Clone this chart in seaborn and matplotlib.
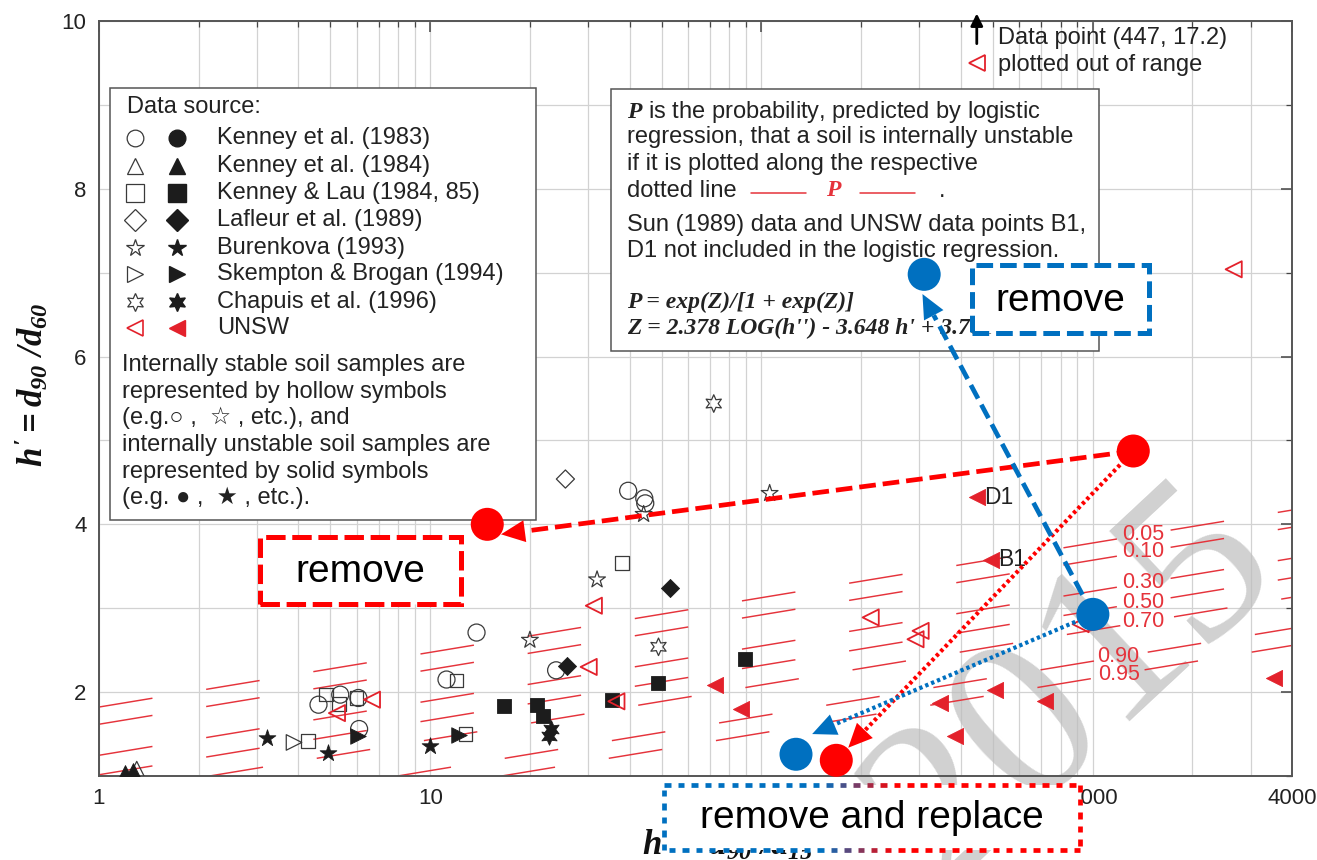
import numpy as np
import pandas as pd
import matplotlib
matplotlib.use("Agg")
import matplotlib.pyplot as plt
import matplotlib.ticker as mticker
import matplotlib.colors as mcolors
from matplotlib.patches import Rectangle, Polygon
from matplotlib.lines import Line2D
from matplotlib.collections import LineCollection
import seaborn as sns

# ------------------------------------------------------------------ data
SOURCES = ["Kenney et al. (1983)", "Kenney et al. (1984)", "Kenney & Lau (1984, 85)",
           "Lafleur et al. (1989)", "Burenkova (1993)", "Skempton & Brogan (1994)",
           "Chapuis et al. (1996)", "UNSW"]

k83_stable_h2 = [4.60, 5.35, 6.07, 6.10, 11.2, 13.8, 24.0, 39.6, 44.3, 44.6]
k83_stable_h1 = [1.85, 1.97, 1.93, 1.56, 2.15, 2.71, 2.26, 4.40, 4.31, 4.25]
k84_stable_h2 = [1.30]
k84_stable_h1 = [1.08]
k84_unstable_h2 = [1.20, 1.27]
k84_unstable_h1 = [1.04, 1.06]
kl_stable_h2 = [4.27, 4.85, 5.30, 6.00, 12.0, 12.8, 37.9]
kl_stable_h1 = [1.42, 1.97, 1.86, 1.93, 2.14, 1.50, 3.54]
kl_unstable_h2 = [16.7, 21.0, 21.9, 35.5, 48.9, 89.5]
kl_unstable_h1 = [1.83, 1.85, 1.72, 1.91, 2.11, 2.40]
laf_stable_h2 = [25.6]
laf_stable_h1 = [4.54]
laf_unstable_h2 = [25.8, 53.1]
laf_unstable_h1 = [2.31, 3.24]
bur_stable_h2 = [20.0, 31.9, 44.1, 105.9]
bur_stable_h1 = [2.62, 3.34, 4.12, 4.37]
bur_unstable_h2 = [3.21, 4.91, 10.0]
bur_unstable_h1 = [1.45, 1.27, 1.36]
skb_stable_h2 = [3.88]
skb_stable_h1 = [1.40]
skb_unstable_h2 = [6.07, 12.2]
skb_unstable_h1 = [1.48, 1.49]
cha_stable_h2 = [48.9, 71.8]
cha_stable_h1 = [2.54, 5.44]
cha_unstable_h2 = [22.8, 23.2]
cha_unstable_h1 = [1.48, 1.56]
unsw_stable_h2 = [5.23, 6.67, 30.1, 31.2, 36.5, 213.8, 292.0, 302.5, 920.0, 2667.0]
unsw_stable_h1 = [1.75, 1.91, 2.30, 3.03, 1.89, 2.89, 2.63, 2.73, 2.81, 7.04]
unsw_unstable_h2 = [72.6, 86.5, 345.0, 384.6, 449.0, 494.0, 506.0, 716.0, 3523.0]
unsw_unstable_h1 = [2.09, 1.80, 1.87, 1.48, 4.32, 3.58, 2.03, 1.89, 2.17]

POINT_LABELS = ["D1", "B1"]
POINT_LABEL_H2 = [449.0, 494.0]
POINT_LABEL_H1 = [4.32, 3.58]

# probability lines (endpoints)
P_LABELS = ["0.05", "0.10", "0.30", "0.50", "0.70", "0.90", "0.95"]
P_START_H2 = [1.0, 1.0, 1.0, 1.0, 2.157, 7.97, 16.43]
P_START_H1 = [1.822, 1.617, 1.247, 1.015, 1.0, 1.0, 1.0]
P_END_H2 = [4000.0] * 7
P_END_H1 = [4.170, 3.965, 3.595, 3.363, 3.130, 2.760, 2.556]
P_LABEL_H2 = [1426, 1426, 1426, 1426, 1426, 1198, 1198]
P_LABEL_H1 = [3.877, 3.673, 3.303, 3.070, 2.838, 2.419, 2.214]

X_TICKS = [1, 10, 100, 1000, 4000]
X_TICK_LABELS = ["1", "10", "100", "1000", "4000"]
Y_TICKS = [2, 4, 6, 8, 10]

OUT_OF_RANGE_H2 = 447
OUT_OF_RANGE_H1 = 17.2

# overlay annotation anchors (data units)
RED_SRC = (1327, 4.874)
RED_T1 = (14.87, 4.00)
RED_T1_TIP = (16.36, 3.881)
RED_T2 = (168.3, 1.187)
RED_T2_TIP = (182.9, 1.337)
BLUE_SRC = (1002, 2.927)
BLUE_T1 = (310.1, 6.98)
BLUE_T1_TIP = (306.4, 6.745)
BLUE_T2 = (127.2, 1.259)
BLUE_T2_TIP = (142.3, 1.50)

# ------------------------------------------------------------------ style
sns.set_theme(style="white")
plt.rcParams["font.family"] = ["Liberation Sans", "DejaVu Sans"]
plt.rcParams["lines.scale_dashes"] = False
plt.rcParams["mathtext.fontset"] = "custom"
plt.rcParams["mathtext.it"] = "Liberation Serif:italic:bold"
plt.rcParams["mathtext.rm"] = "Liberation Serif:italic:bold"
plt.rcParams["mathtext.bf"] = "Liberation Serif:italic:bold"

W, H = 1317, 860


def fx(px):
    return px / W


def fy(py):
    return 1 - py / H


RED = "#FF0000"
BLUE = "#0070C0"
PRED = "#E5333B"
UNSW_RED = "#E3212B"
DARK = "#1c1c1c"
HOLLOW_EC = "#3a3a3a"

fig = plt.figure(figsize=(W / 100, H / 100), dpi=100)
fig.patch.set_facecolor("white")
ax = fig.add_axes([fx(99), fy(776), fx(1292) - fx(99), fy(21) - fy(776)])
ax.set_xscale("log")

# ------------------------------------------------------------------ dataframe
rows = []


def add(src, state, xs, ys):
    for a, b in zip(xs, ys):
        rows.append({"h2": a, "h1": b, "source": src, "state": state})


add(SOURCES[0], "stable", k83_stable_h2, k83_stable_h1)
add(SOURCES[1], "stable", k84_stable_h2, k84_stable_h1)
add(SOURCES[1], "unstable", k84_unstable_h2, k84_unstable_h1)
add(SOURCES[2], "stable", kl_stable_h2, kl_stable_h1)
add(SOURCES[2], "unstable", kl_unstable_h2, kl_unstable_h1)
add(SOURCES[3], "stable", laf_stable_h2, laf_stable_h1)
add(SOURCES[3], "unstable", laf_unstable_h2, laf_unstable_h1)
add(SOURCES[4], "stable", bur_stable_h2, bur_stable_h1)
add(SOURCES[4], "unstable", bur_unstable_h2, bur_unstable_h1)
add(SOURCES[5], "stable", skb_stable_h2, skb_stable_h1)
add(SOURCES[5], "unstable", skb_unstable_h2, skb_unstable_h1)
add(SOURCES[6], "stable", cha_stable_h2, cha_stable_h1)
add(SOURCES[6], "unstable", cha_unstable_h2, cha_unstable_h1)
add(SOURCES[7], "stable", unsw_stable_h2, unsw_stable_h1)
add(SOURCES[7], "unstable", unsw_unstable_h2, unsw_unstable_h1)
df = pd.DataFrame(rows)

HEX = (6, 1, 0)
MARKERS = dict(zip(SOURCES, ["o", "^", "s", "D", "*", ">", HEX, "<"]))
SIZES = dict(zip(SOURCES, [150, 130, 95, 85, 160, 125, 160, 135]))
LEG_MS = dict(zip(SOURCES, [12, 12, 13, 11, 13, 12, 13, 12]))

# ------------------------------------------------------------------ P lines
for i, lab in enumerate(P_LABELS):
    ax.plot([P_START_H2[i], P_END_H2[i]], [P_START_H1[i], P_END_H1[i]],
            color=PRED, lw=1.05, linestyle=(0, (39.0, 39.2)),
            dash_capstyle="butt", zorder=2)
    ax.text(P_LABEL_H2[i], P_LABEL_H1[i], lab, color=PRED, fontsize=15.5,
            ha="center", va="center", zorder=2.5)

# ------------------------------------------------------------------ points
for src in SOURCES:
    for state in ["stable", "unstable"]:
        sub = df[(df.source == src) & (df.state == state)]
        if sub.empty:
            continue
        col = UNSW_RED if src == "UNSW" else DARK
        if state == "stable":
            ec = UNSW_RED if src == "UNSW" else HOLLOW_EC
            lw = 1.3 if src == "UNSW" else 0.9
            sns.scatterplot(data=sub, x="h2", y="h1", ax=ax, marker=MARKERS[src],
                            s=SIZES[src], color="none", edgecolor=ec,
                            linewidth=lw, zorder=6, legend=False)
        else:
            sns.scatterplot(data=sub, x="h2", y="h1", ax=ax, marker=MARKERS[src],
                            s=SIZES[src], color=col, edgecolor=col,
                            linewidth=0.6, zorder=6, legend=False)

for lab, a, b in zip(POINT_LABELS, POINT_LABEL_H2, POINT_LABEL_H1):
    ax.annotate(lab, (a, b), xytext=(5, 0), textcoords="offset points",
                va="center", ha="left", fontsize=16.5, color="#222222", zorder=7)

# ------------------------------------------------------------------ axes
ax.set_xlim(1, 4000)
ax.set_ylim(1, 10)
ax.set_xlabel("")
ax.set_ylabel("")
ax.xaxis.set_major_locator(mticker.FixedLocator(X_TICKS))
ax.xaxis.set_major_formatter(mticker.FixedFormatter(X_TICK_LABELS))
minor_x = [m * 10 ** e for e in range(0, 4) for m in range(2, 10) if m * 10 ** e < 4000]
ax.xaxis.set_minor_locator(mticker.FixedLocator(minor_x))
ax.xaxis.set_minor_formatter(mticker.NullFormatter())
ax.yaxis.set_major_locator(mticker.FixedLocator(Y_TICKS))
ax.yaxis.set_minor_locator(mticker.FixedLocator([1, 3, 5, 7, 9]))
ax.grid(True, which="both", color="#d2d2d2", lw=0.9, zorder=0)
ax.set_axisbelow(True)
ax.tick_params(which="both", direction="in", top=True, right=True,
               colors="#444444", labelcolor="#222222", labelsize=16)
ax.tick_params(which="major", length=8, width=1.1, pad=9)
ax.tick_params(which="minor", length=4.5, width=0.9)
for sp in ax.spines.values():
    sp.set_color("#555555")
    sp.set_linewidth(1.4)

# axis labels
fig.text(fx(31), fy(385), r"$h' = d_{90}\ /d_{60}$", rotation=90, fontsize=25,
         ha="center", va="center", color="#111111")
fig.text(fx(728), fy(843), r"$h'' = d_{90}\ /d_{15}$", fontsize=25,
         ha="center", va="center", color="#111111")

# watermark
ax.text(fx(1058), fy(668), "2015", transform=fig.transFigure, fontsize=168,
        family="Liberation Serif", color="#bdbdbd", alpha=0.7, rotation=43,
        rotation_mode="anchor", ha="center", va="center_baseline", zorder=1.5,
        clip_on=False)

# ------------------------------------------------------------------ legend box
TF = fig.transFigure
ax.add_patch(Rectangle((fx(110), fy(520)), fx(536) - fx(110), fy(88) - fy(520),
                       transform=TF, facecolor="white", edgecolor="#555555",
                       lw=1.1, zorder=3))
ax.text(fx(127), fy(107), "Data source:", transform=TF, fontsize=17,
        va="center", ha="left", zorder=4, color="#222222")
row_y = [138, 166, 193, 220, 248, 274, 302, 328]
for src, yy in zip(SOURCES, row_y):
    col = UNSW_RED if src == "UNSW" else DARK
    ec = UNSW_RED if src == "UNSW" else HOLLOW_EC
    ax.add_artist(Line2D([fx(135)], [fy(yy)], transform=TF, marker=MARKERS[src],
                         markersize=LEG_MS[src], markerfacecolor="none",
                         markeredgecolor=ec, markeredgewidth=1.2 if src == "UNSW" else 0.9,
                         linestyle="none", zorder=4))
    ax.add_artist(Line2D([fx(177)], [fy(yy)], transform=TF, marker=MARKERS[src],
                         markersize=LEG_MS[src], markerfacecolor=col,
                         markeredgecolor=col, linestyle="none", zorder=4))
    ax.text(fx(217), fy(yy), src, transform=TF, fontsize=17, va="center",
            ha="left", zorder=4, color="#222222")
PARA = ["Internally stable soil samples are", "represented by hollow symbols",
        "(e.g.\u25CB ,  \u2606 , etc.), and", "internally unstable soil samples are",
        "represented by solid symbols", "(e.g. \u25CF ,  \u2605 , etc.)."]
for t, yy in zip(PARA, [365, 392, 418, 445, 472, 498]):
    ax.text(fx(122), fy(yy), t, transform=TF, fontsize=17, va="center",
            ha="left", zorder=4, color="#222222")

# ------------------------------------------------------------------ info box
ax.add_patch(Rectangle((fx(611), fy(351)), fx(1099) - fx(611), fy(89) - fy(351),
                       transform=TF, facecolor="white", edgecolor="#555555",
                       lw=1.1, zorder=3))
INFO = [(112, r"$P$ is the probability, predicted by logistic"),
        (137, "regression, that a soil is internally unstable"),
        (164, "if it is plotted along the respective"),
        (191, "dotted line"),
        (225, "Sun (1989) data and UNSW data points B1,"),
        (251, "D1 not included in the logistic regression.")]
for yy, t in INFO:
    ax.text(fx(627), fy(yy), t, transform=TF, fontsize=17, va="center",
            ha="left", zorder=4, color="#222222")
ax.add_artist(Line2D([fx(751), fx(806)], [fy(193), fy(193)], transform=TF,
                     color=PRED, lw=1.1, zorder=4))
ax.add_artist(Line2D([fx(860), fx(915)], [fy(193), fy(193)], transform=TF,
                     color=PRED, lw=1.1, zorder=4))
ax.text(fx(833), fy(191), "P", transform=TF, fontsize=17, family="Liberation Serif",
        weight="bold", style="italic", color=PRED, ha="center", va="center", zorder=4)
ax.text(fx(942), fy(191), ".", transform=TF, fontsize=17, color="#222222",
        ha="center", va="center", zorder=4)
ax.text(fx(627), fy(302), "P = exp(Z)/[1 + exp(Z)]", transform=TF, fontsize=17,
        family="Liberation Serif", weight="bold", style="italic", va="center",
        ha="left", zorder=4, color="#222222")
ax.text(fx(627), fy(328), "Z = 2.378 LOG(h'') - 3.648 h' + 3.701", transform=TF,
        fontsize=17, family="Liberation Serif", weight="bold", style="italic",
        va="center", ha="left", zorder=4, color="#222222")

# out of range note
ax.annotate("", xy=(OUT_OF_RANGE_H2, 10.09), xytext=(OUT_OF_RANGE_H2, 9.73),
            arrowprops=dict(arrowstyle="-|>", color="black", lw=2.0,
                            mutation_scale=18, shrinkA=0, shrinkB=0),
            annotation_clip=False, zorder=8)
ax.add_artist(Line2D([fx(977)], [fy(63)], transform=TF, marker="<", markersize=11,
                     markerfacecolor="none", markeredgecolor=UNSW_RED,
                     markeredgewidth=1.3, linestyle="none", zorder=8))
ax.text(fx(998), fy(38), f"Data point ({OUT_OF_RANGE_H2}, {OUT_OF_RANGE_H1})",
        transform=TF, fontsize=17, va="center", ha="left", zorder=8, color="#222222")
ax.text(fx(998), fy(65), "plotted out of range", transform=TF, fontsize=17,
        va="center", ha="left", zorder=8, color="#222222")

# ------------------------------------------------------------------ overlay arrows
T = ax.transData
INV = T.inverted()


def arrow(start, tip, color, ls, lw, head_len=24, head_w=11, z=9):
    s = T.transform(start)
    t = T.transform(tip)
    d = t - s
    d = d / np.hypot(*d)
    n = np.array([-d[1], d[0]])
    base = t - head_len * d
    p0, p1 = INV.transform([s, base])
    ax.plot([p0[0], p1[0]], [p0[1], p1[1]], color=color, lw=lw, linestyle=ls,
            dash_capstyle="butt", zorder=z, clip_on=False)
    tri = INV.transform([t, base + head_w * n, base - head_w * n])
    ax.add_patch(Polygon(tri, closed=True, facecolor=color, edgecolor="none",
                         zorder=z, clip_on=False))


arrow(RED_SRC, RED_T1_TIP, RED, (0, (12, 5)), 3.4)
arrow(RED_SRC, RED_T2_TIP, RED, (0, (2.4, 2.2)), 3.0)
arrow(BLUE_SRC, BLUE_T1_TIP, BLUE, (0, (11, 5)), 3.4)
arrow(BLUE_SRC, BLUE_T2_TIP, BLUE, (0, (2.4, 2.2)), 3.0)

circ_s = (33 * 0.72) ** 2
for pt, c in [(RED_SRC, RED), (RED_T1, RED), (RED_T2, RED),
              (BLUE_SRC, BLUE), (BLUE_T1, BLUE), (BLUE_T2, BLUE)]:
    ax.scatter([pt[0]], [pt[1]], s=circ_s, color=c, edgecolors="none",
               zorder=10, clip_on=False)

# ------------------------------------------------------------------ overlay boxes


def fig_box(x0, y0, x1, y1, color, ls, text):
    fig.add_artist(Rectangle((fx(x0), fy(y1)), fx(x1) - fx(x0), fy(y0) - fy(y1),
                             transform=TF, facecolor="white", edgecolor=color,
                             lw=3.6, linestyle=ls, joinstyle="miter", zorder=5))
    fig.text(fx((x0 + x1) / 2), fy((y0 + y1) / 2 + 2), text, fontsize=28,
             ha="center", va="center", color="black", zorder=6)


fig_box(260, 537, 461, 604, RED, (0, (14, 4.8)), "remove")
fig_box(972, 265, 1149, 333, BLUE, (0, (12, 5)), "remove")

# remove-and-replace box with blue->red dotted border
bx0, by0, bx1, by1 = 664, 785, 1080, 850
fig.add_artist(Rectangle((fx(bx0), fy(by1)), fx(bx1) - fx(bx0), fy(by0) - fy(by1),
                         transform=TF, facecolor="white", edgecolor="none", zorder=5))
corners = [(bx0, by0), (bx1, by0), (bx1, by1), (bx0, by1), (bx0, by0)]
segs, cols = [], []
c_blue = np.array(mcolors.to_rgb(BLUE))
c_red = np.array(mcolors.to_rgb(RED))
for (ax0, ay0), (ax1, ay1) in zip(corners[:-1], corners[1:]):
    L = np.hypot(ax1 - ax0, ay1 - ay0)
    k = 0.0
    while k < L:
        e = min(k + 6.5, L)
        xa, ya = ax0 + (ax1 - ax0) * k / L, ay0 + (ay1 - ay0) * k / L
        xb, yb = ax0 + (ax1 - ax0) * e / L, ay0 + (ay1 - ay0) * e / L
        segs.append([(fx(xa), fy(ya)), (fx(xb), fy(yb))])
        tt = np.clip(((xa + xb) / 2 - 822) / (895 - 822), 0, 1)
        cols.append(tuple(c_blue * (1 - tt) + c_red * tt))
        k += 13.5
fig.add_artist(LineCollection(segs, colors=cols, linewidths=3.4, transform=TF,
                              zorder=6, capstyle="butt"))
fig.text(fx((bx0 + bx1) / 2), fy((by0 + by1) / 2 + 1), "remove and replace",
         fontsize=28, ha="center", va="center", color="black", zorder=7)

fig.savefig("out.png", dpi=100, facecolor="white")
